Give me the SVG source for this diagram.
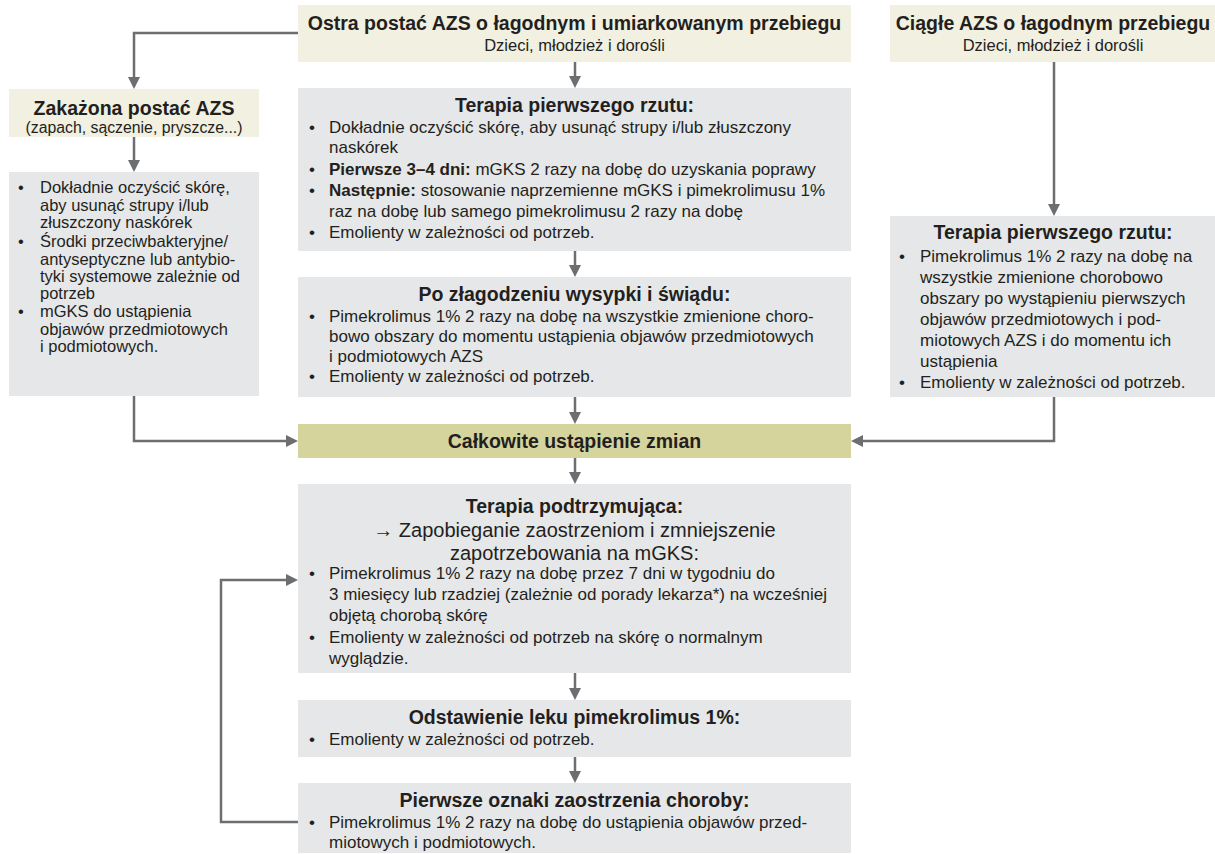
<svg xmlns="http://www.w3.org/2000/svg" width="1215" height="854" viewBox="0 0 1215 854">
<style>
text{font-family:"Liberation Sans",Arial,sans-serif;fill:#231f20}
.h{font-weight:bold;font-size:19.5px;text-anchor:middle}
.s{font-size:16.5px;text-anchor:middle}
.s2{font-size:15.8px;text-anchor:middle}
.b{font-size:17px}
.l{font-size:16.5px}
.z{font-size:20px;text-anchor:middle}
.beige{fill:#f1f0e1}
.gray{fill:#e6e7e8}
.olive{fill:#d6d49d}
.c{fill:none;stroke:#6d6e71;stroke-width:2.5}
</style>
<defs>
<marker id="ah" viewBox="0 0 12 12" refX="8" refY="6" markerWidth="12" markerHeight="12" markerUnits="userSpaceOnUse" orient="auto">
<path d="M0,0 L12,6 L0,12 z" fill="#6d6e71"/>
</marker>
</defs>

<g id="connectors">
<path class="c" d="M298,33 H134 V85" marker-end="url(#ah)"/>
<path class="c" d="M575,62 V84" marker-end="url(#ah)"/>
<path class="c" d="M134,137 V168" marker-end="url(#ah)"/>
<path class="c" d="M134,396 V441 H294" marker-end="url(#ah)"/>
<path class="c" d="M575,251 V273" marker-end="url(#ah)"/>
<path class="c" d="M575,397 V420" marker-end="url(#ah)"/>
<path class="c" d="M1054,62 V212" marker-end="url(#ah)"/>
<path class="c" d="M1054,397 V441 H855" marker-end="url(#ah)"/>
<path class="c" d="M575,458 V480" marker-end="url(#ah)"/>
<path class="c" d="M575,673 V696" marker-end="url(#ah)"/>
<path class="c" d="M575,757 V779" marker-end="url(#ah)"/>
<path class="c" d="M298,822 H221 V580 H294" marker-end="url(#ah)"/>
</g>

<g id="ostra">
<rect class="beige" x="298" y="5" width="553" height="57"/>
<text class="h" x="574.5" y="30">Ostra postać AZS o łagodnym i umiarkowanym przebiegu</text>
<text class="s" x="574.5" y="51">Dzieci, młodzież i dorośli</text>
</g>

<g id="ciagle">
<rect class="beige" x="890" y="5" width="325" height="57"/>
<text class="h" x="1053" y="30">Ciągłe AZS o łagodnym przebiegu</text>
<text class="s" x="1053" y="51">Dzieci, młodzież i dorośli</text>
</g>

<g id="zakazona">
<rect class="beige" x="9" y="89" width="250" height="48"/>
<text class="h" x="134" y="115">Zakażona postać AZS</text>
<text class="s2" x="134" y="133">(zapach, sączenie, pryszcze...)</text>
</g>

<g id="zakazona-terapia">
<rect class="gray" x="9" y="172" width="250" height="224"/>
<g class="l">
<text x="18" y="193">•</text><text x="40" y="193">Dokładnie oczyścić skórę,</text>
<text x="40" y="211">aby usunąć strupy i/lub</text>
<text x="40" y="228">złuszczony naskórek</text>
<text x="18" y="247">•</text><text x="40" y="247">Środki przeciwbakteryjne/</text>
<text x="40" y="265">antyseptyczne lub antybio-</text>
<text x="40" y="282">tyki systemowe zależnie od</text>
<text x="40" y="299">potrzeb</text>
<text x="18" y="317">•</text><text x="40" y="317">mGKS do ustąpienia</text>
<text x="40" y="335">objawów przedmiotowych</text>
<text x="40" y="352">i podmiotowych.</text>
</g>
</g>

<g id="terapia-pierwsza">
<rect class="gray" x="298" y="88" width="553" height="163"/>
<text class="h" x="574.5" y="112">Terapia pierwszego rzutu:</text>
<g class="b">
<text x="309" y="133">•</text><text x="329" y="133">Dokładnie oczyścić skórę, aby usunąć strupy i/lub złuszczony</text>
<text x="329" y="153">naskórek</text>
<text x="309" y="175">•</text><text x="329" y="175"><tspan font-weight="bold">Pierwsze 3–4 dni:</tspan> mGKS 2 razy na dobę do uzyskania poprawy</text>
<text x="309" y="196">•</text><text x="329" y="196"><tspan font-weight="bold">Następnie:</tspan> stosowanie naprzemienne mGKS i pimekrolimusu 1%</text>
<text x="329" y="217">raz na dobę lub samego pimekrolimusu 2 razy na dobę</text>
<text x="309" y="238">•</text><text x="329" y="238">Emolienty w zależności od potrzeb.</text>
</g>
</g>

<g id="po-zlagodzeniu">
<rect class="gray" x="298" y="277" width="553" height="120"/>
<text class="h" x="574.5" y="301">Po złagodzeniu wysypki i świądu:</text>
<g class="b">
<text x="309" y="322">•</text><text x="329" y="322">Pimekrolimus 1% 2 razy na dobę na wszystkie zmienione choro-</text>
<text x="329" y="342">bowo obszary do momentu ustąpienia objawów przedmiotowych</text>
<text x="329" y="362">i podmiotowych AZS</text>
<text x="309" y="382">•</text><text x="329" y="382">Emolienty w zależności od potrzeb.</text>
</g>
</g>

<g id="ciagle-terapia">
<rect class="gray" x="890" y="216" width="325" height="181"/>
<text class="h" x="1053" y="239">Terapia pierwszego rzutu:</text>
<g class="b">
<text x="899" y="262">•</text><text x="920" y="262">Pimekrolimus 1% 2 razy na dobę na</text>
<text x="920" y="283">wszystkie zmienione chorobowo</text>
<text x="920" y="304">obszary po wystąpieniu pierwszych</text>
<text x="920" y="325">objawów przedmiotowych i pod-</text>
<text x="920" y="346">miotowych AZS i do momentu ich</text>
<text x="920" y="367">ustąpienia</text>
<text x="899" y="388">•</text><text x="920" y="388">Emolienty w zależności od potrzeb.</text>
</g>
</g>

<g id="calkowite">
<rect class="olive" x="298" y="424" width="553" height="34"/>
<text class="h" x="574.5" y="448">Całkowite ustąpienie zmian</text>
</g>

<g id="podtrzymujaca">
<rect class="gray" x="298" y="484" width="553" height="189"/>
<text class="h" x="574.5" y="513">Terapia podtrzymująca:</text>
<text class="z" x="574.5" y="537">→ Zapobieganie zaostrzeniom i zmniejszenie</text>
<text class="z" x="574.5" y="560">zapotrzebowania na mGKS:</text>
<g class="b">
<text x="309" y="579">•</text><text x="329" y="579">Pimekrolimus 1% 2 razy na dobę przez 7 dni w tygodniu do</text>
<text x="329" y="600">3 miesięcy lub rzadziej (zależnie od porady lekarza*) na wcześniej</text>
<text x="329" y="621">objętą chorobą skórę</text>
<text x="309" y="643">•</text><text x="329" y="643">Emolienty w zależności od potrzeb na skórę o normalnym</text>
<text x="329" y="664">wyglądzie.</text>
</g>
</g>

<g id="odstawienie">
<rect class="gray" x="298" y="700" width="553" height="57"/>
<text class="h" x="574.5" y="724">Odstawienie leku pimekrolimus 1%:</text>
<g class="b">
<text x="309" y="745">•</text><text x="329" y="745">Emolienty w zależności od potrzeb.</text>
</g>
</g>

<g id="zaostrzenie">
<rect class="gray" x="298" y="783" width="553" height="70"/>
<text class="h" x="574.5" y="807">Pierwsze oznaki zaostrzenia choroby:</text>
<g class="b">
<text x="309" y="828">•</text><text x="329" y="828">Pimekrolimus 1% 2 razy na dobę do ustąpienia objawów przed-</text>
<text x="329" y="848">miotowych i podmiotowych.</text>
</g>
</g>
</svg>
